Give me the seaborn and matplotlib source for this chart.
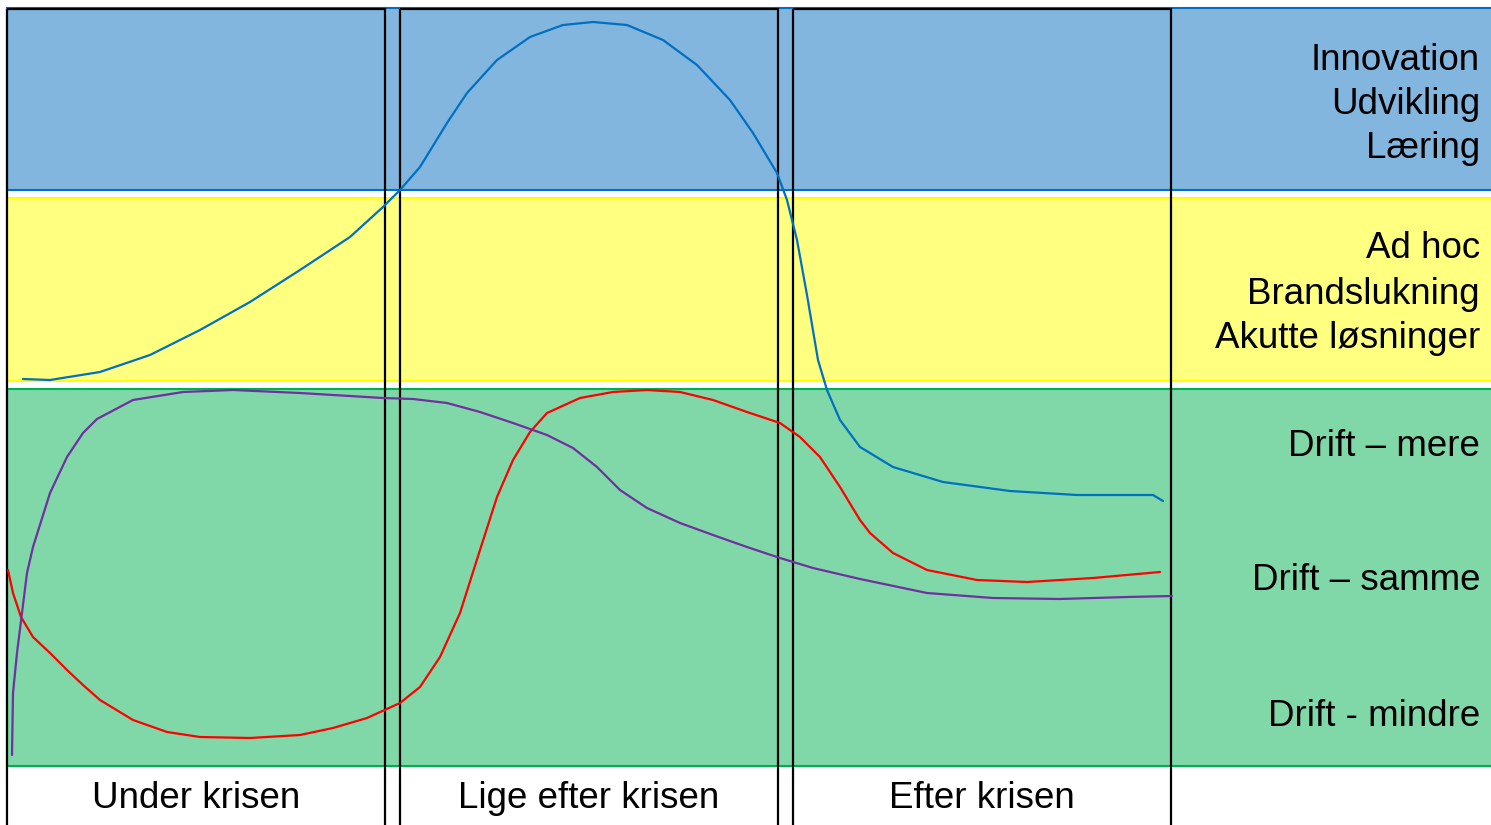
import numpy as np
import pandas as pd
import matplotlib
matplotlib.use('Agg')
import matplotlib.pyplot as plt
import seaborn as sns
from matplotlib.patches import Rectangle

# Curves (x, y in pixel coordinates, y grows downward)
blue_x = [23, 50, 100, 150, 200, 250, 300, 350, 383, 400, 420, 447, 467, 497, 530, 563, 593,
          627, 663, 697, 730, 753, 777, 787, 797, 807, 818, 827, 840, 860, 893, 943, 1010,
          1077, 1153, 1163]
blue_y = [379, 380, 372, 355, 330, 302, 270, 237, 207, 190, 167, 123, 93, 60, 37, 25, 22,
          25, 40, 65, 100, 133, 173, 200, 240, 295, 360, 390, 420, 447, 467, 482, 491,
          495, 495, 501]

red_x = [8, 13, 21, 33, 50, 67, 83, 100, 133, 167, 200, 250, 300, 333, 367, 400, 420, 440,
         460, 480, 497, 513, 530, 547, 580, 613, 647, 680, 713, 747, 780, 800, 820, 840,
         860, 870, 893, 927, 977, 1027, 1093, 1160]
red_y = [570, 593, 617, 637, 653, 670, 685, 700, 720, 732, 737, 738, 735, 728, 718, 703, 687, 657,
         613, 550, 497, 460, 432, 413, 398, 392, 390, 392, 400, 412, 423, 437, 457, 487,
         520, 533, 553, 570, 580, 582, 578, 572]

purple_x = [12, 13, 17, 22, 27, 33, 50, 67, 83, 97, 133, 183, 233, 300, 383, 413, 447, 480,
            513, 547, 573, 597, 620, 647, 680, 713, 747, 780, 813, 860, 927, 993, 1060, 1127, 1172]
purple_y = [755, 693, 653, 613, 573, 547, 493, 457, 433, 419, 400, 392, 390, 393, 398, 399, 403, 412,
            423, 435, 448, 467, 490, 508, 523, 535, 547, 558, 568, 579, 593, 598, 599, 597, 596]

band_labels = [["Innovation", "Udvikling", "Læring"],
               ["Ad hoc", "Brandslukning", "Akutte løsninger"],
               ["Drift – mere", "Drift – samme", "Drift - mindre"]]
phase_labels = ["Under krisen", "Lige efter krisen", "Efter krisen"]

sns.set_theme(style="white")
plt.rcParams['font.family'] = ['Liberation Sans', 'DejaVu Sans']

fig = plt.figure(figsize=(14.91, 8.25), dpi=100)
ax = fig.add_axes([0, 0, 1, 1])

# background bands
ax.add_patch(Rectangle((7, 8), 1500, 182, facecolor='#82B6DF', edgecolor='#0070C0', lw=1.5, zorder=1))
ax.add_patch(Rectangle((7, 198), 1500, 183, facecolor='#FFFF80', edgecolor='#FFFF00', lw=1.5, zorder=1))
ax.add_patch(Rectangle((7, 389), 1500, 377, facecolor='#80D8A8', edgecolor='#00B050', lw=1.5, zorder=1))

# phase boxes
for x0, x1 in [(7, 385), (400, 778), (793, 1171)]:
    ax.add_patch(Rectangle((x0, 9), x1 - x0, 840, facecolor='none', edgecolor='black', lw=1.6, zorder=3))

curves = pd.concat([
    pd.DataFrame({'x': blue_x, 'y': blue_y, 'serie': 'blue'}),
    pd.DataFrame({'x': red_x, 'y': red_y, 'serie': 'red'}),
    pd.DataFrame({'x': purple_x, 'y': purple_y, 'serie': 'purple'}),
])
sns.lineplot(data=curves, x='x', y='y', hue='serie', sort=False, estimator=None,
             palette={'blue': '#0070C0', 'red': '#FF0000', 'purple': '#7030A0'},
             lw=1.6, legend=False, ax=ax, zorder=4)
ax.set_xlim(0, 1491)
ax.set_ylim(825, 0)
ax.axis('off')

label_y = [[57, 101, 146], [246, 291, 335], [444, 578, 713]]
for texts, ys in zip(band_labels, label_y):
    for t, yy in zip(texts, ys):
        ax.text(1480, yy + 3, t, ha='right', va='center', fontsize=26.5, color='black', zorder=5)

for t, xx in zip(phase_labels, [196, 589, 982]):
    ax.text(xx, 799, t, ha='center', va='center', fontsize=26.5, color='black', zorder=5)

fig.savefig('out.png', dpi=100)
